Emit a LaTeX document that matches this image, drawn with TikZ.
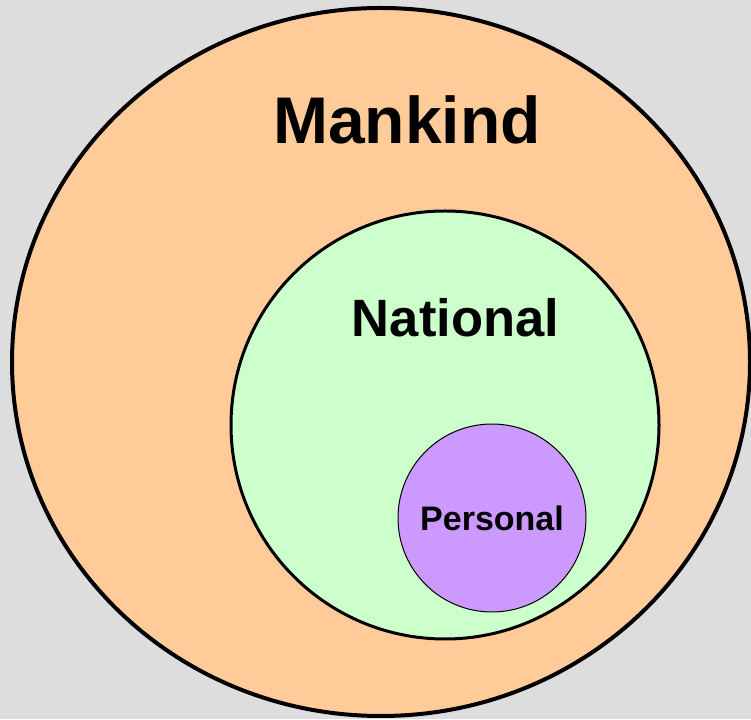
\documentclass[tikz,border=0pt]{standalone}
\usepackage{fontspec}
\setmainfont{Liberation Sans}
\usetikzlibrary{positioning}
\definecolor{bggray}{HTML}{DDDDDD}
\definecolor{peach}{HTML}{FFCC99}
\definecolor{mint}{HTML}{CCFFCC}
\definecolor{lilac}{HTML}{CC99FF}

\begin{document}
\begin{tikzpicture}[x=1pt,y=1pt]
        \tikzstyle{ring}=[draw=black]
        \tikzstyle{label}=[anchor=base, inner sep=0pt, font=\bfseries]
        % Background and frame
        \fill[bggray] (0,0) rectangle (751,719);
        \useasboundingbox (0,0) rectangle (751,719);
        \clip (0,0) rectangle (751,719);

        % Outer set
        \coordinate (mankind_c) at (381,357);
        \draw[ring, fill=peach, line width=4pt] (mankind_c) ellipse [x radius=369, y radius=354];

        % Middle set
        \coordinate (national_c) at (445,294);
        \draw[ring, fill=mint, line width=3pt] (national_c) circle [radius=214];

        % Inner set
        \coordinate (personal_c) at (492,201);
        \draw[ring, fill=lilac, line width=1pt] (personal_c) circle [radius=94];

        % Labels
        \node (mankind)[label, font=\fontsize{66}{66}\selectfont\bfseries] at (407,575) {Mankind};
        \node (national)[label, font=\fontsize{52.5}{52.5}\selectfont\bfseries] at (455.5,382) {National};
        \node (personal)[label, font=\fontsize{34}{34}\selectfont\bfseries] at (492,188) {Personal};
    \end{tikzpicture}
\end{document}
